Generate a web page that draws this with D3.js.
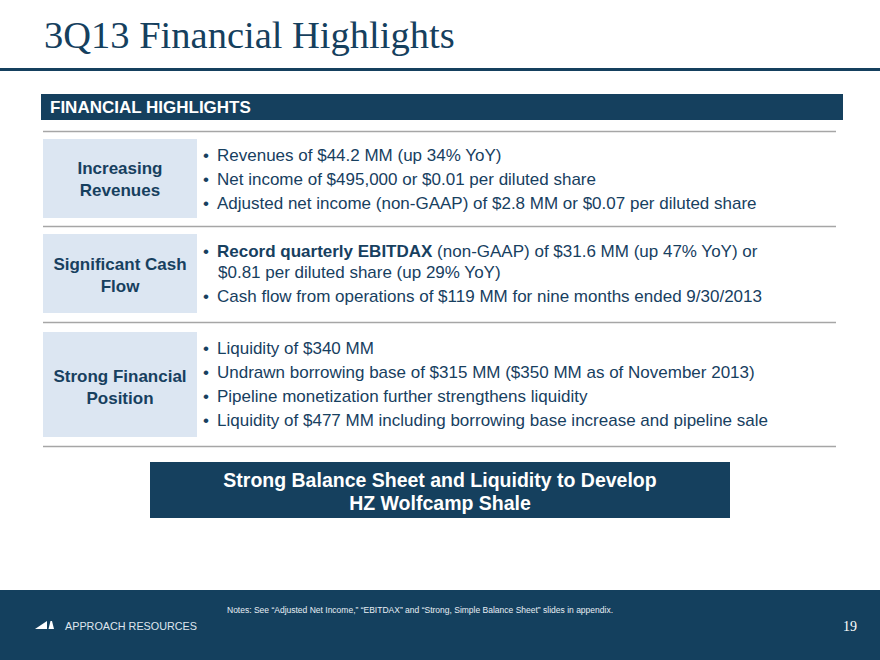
<!DOCTYPE html>
<html><head><meta charset="utf-8">
<script src="https://cdn.jsdelivr.net/npm/d3@7"></script>
<style>html,body{margin:0;padding:0;background:#fff;overflow:hidden}</style>
</head><body><svg id="c" width="880" height="660"></svg>
<script>
const title = "3Q13 Financial Highlights";
const header = "FINANCIAL HIGHLIGHTS";
const sectionLabels = [["Increasing","Revenues"],["Significant Cash","Flow"],["Strong Financial","Position"]];
// each bullet: array of lines; each line: array of [text, bold]
const sectionBullets = [
  [
    [[["Revenues of $44.2 MM (up 34% YoY)",0]]],
    [[["Net income of $495,000 or $0.01 per diluted share",0]]],
    [[["Adjusted net income (non-GAAP) of $2.8 MM or $0.07 per diluted share",0]]]
  ],
  [
    [[["Record quarterly EBITDAX",1],[" (non-GAAP) of $31.6 MM (up 47% YoY) or",0]],[["$0.81 per diluted share (up 29% YoY)",0]]],
    [[["Cash flow from operations of $119 MM for nine months ended 9/30/2013",0]]]
  ],
  [
    [[["Liquidity of $340 MM",0]]],
    [[["Undrawn borrowing base of $315 MM ($350 MM as of November 2013)",0]]],
    [[["Pipeline monetization further strengthens liquidity",0]]],
    [[["Liquidity of $477 MM including borrowing base increase and pipeline sale",0]]]
  ]
];
const callout = ["Strong Balance Sheet and Liquidity to Develop","HZ Wolfcamp Shale"];
const notes = "Notes: See \u201cAdjusted Net Income,\u201d \u201cEBITDAX\u201d and \u201cStrong, Simple Balance Sheet\u201d slides in appendix.";
const company = "APPROACH RESOURCES";
const pageNum = "19";

// layout
const navy = "#15405e", text = "#17405f", boxFill = "#dce6f2";
const boxes = [{y0:139,y1:218,lab:[174,196],bl:[161,185,209]},
               {y0:234,y1:313,lab:[270,292],bl:[257,278,302]},
               {y0:332,y1:437,lab:[382,404],bl:[354,378,402,426]}];
const rules = [131,226,322,446];

const svg = d3.select("#c");
const sans = "'Liberation Sans', Arial, sans-serif";

svg.append("text").attr("x",44).attr("y",48).attr("font-family","'Liberation Serif', Georgia, serif")
  .attr("font-size",38.5).attr("fill",navy).text(title);
svg.append("rect").attr("x",0).attr("y",68).attr("width",880).attr("height",3).attr("fill",navy);

svg.append("rect").attr("x",41).attr("y",94).attr("width",802).attr("height",26).attr("fill",navy);
svg.append("text").attr("x",50).attr("y",113).attr("font-family",sans).attr("font-weight","bold")
  .attr("font-size",17).attr("fill","#fff").text(header);

svg.selectAll("line.rule").data(rules).join("line").attr("class","rule")
  .attr("x1",43).attr("x2",836).attr("y1",d=>d+0.5).attr("y2",d=>d+0.5)
  .attr("stroke","#a6a6a6").attr("stroke-width",1.5);

boxes.forEach((b,i)=>{
  svg.append("rect").attr("x",43).attr("y",b.y0).attr("width",154).attr("height",b.y1-b.y0).attr("fill",boxFill);
  sectionLabels[i].forEach((l,j)=>{
    svg.append("text").attr("x",120).attr("y",b.lab[j]).attr("text-anchor","middle")
      .attr("font-family",sans).attr("font-weight","bold").attr("font-size",17).attr("fill",text).text(l);
  });
  let li = 0;
  sectionBullets[i].forEach(bullet=>{
    bullet.forEach((line,k)=>{
      if(k===0) svg.append("text").attr("x",203).attr("y",b.bl[li]).attr("font-family",sans)
        .attr("font-size",17).attr("fill",text).text("\u2022");
      const t = svg.append("text").attr("x",k===0?217:218).attr("y",b.bl[li])
        .attr("font-family",sans).attr("font-size",17).attr("fill",text);
      line.forEach(seg=>t.append("tspan").attr("font-weight",seg[1]?"bold":"normal").text(seg[0]));
      li++;
    });
  });
});

svg.append("rect").attr("x",150).attr("y",462).attr("width",580).attr("height",56).attr("fill",navy);
callout.forEach((c,i)=>{
  svg.append("text").attr("x",440).attr("y",487+i*23).attr("text-anchor","middle")
    .attr("font-family",sans).attr("font-weight","bold").attr("font-size",19.5).attr("fill","#fff").text(c);
});

svg.append("rect").attr("x",0).attr("y",590).attr("width",880).attr("height",70).attr("fill","#14405e");
svg.append("text").attr("x",227).attr("y",613).attr("font-family",sans).attr("font-size",8.5).attr("fill","#e8eef4").text(notes);
svg.append("path").attr("d","M35,629 L47,621 L47,629 Z").attr("fill","#fff");
svg.append("path").attr("d","M48.5,629 L50.5,621 L52,621 L54,629 Z").attr("fill","#fff");
svg.append("text").attr("x",65).attr("y",630).attr("font-family",sans).attr("font-size",10.8).attr("fill","#dfe6ee").text(company);
svg.append("text").attr("x",843).attr("y",631).attr("font-family","'Liberation Serif', Georgia, serif").attr("font-size",14).attr("fill","#fff").text(pageNum);
</script></body></html>
